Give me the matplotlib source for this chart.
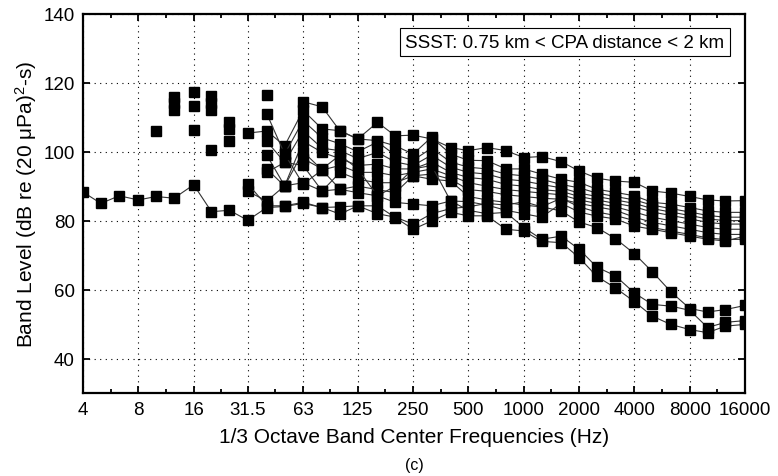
import numpy as np
import matplotlib
matplotlib.use("Agg")
import matplotlib.pyplot as plt
from matplotlib.ticker import FixedLocator, NullFormatter

plt.rcParams['font.family'] = ['Liberation Sans', 'DejaVu Sans']
plt.rcParams['mathtext.fontset'] = 'custom'
plt.rcParams['mathtext.rm'] = 'Liberation Sans'
plt.rcParams['mathtext.it'] = 'Liberation Sans:italic'

nan = np.nan

# 1/3 octave band centre frequencies (Hz)
bands = [4, 5, 6.3, 8, 10, 12.5, 16, 20, 25, 31.5, 40, 50, 63, 80, 100, 125,
         160, 200, 250, 315, 400, 500, 630, 800, 1000, 1250, 1600, 2000, 2500,
         3150, 4000, 5000, 6300, 8000, 10000, 12500, 16000]
bands_hi = bands[9:]  # 31.5 Hz and up

# full-range record (4 Hz - 16 kHz)
level_a = [88.3, 85, 87.2, 86, 87, 86.5, 90.4, 82.6, 83, 80.1, 83.8, 84.1, 85,
           83.8, 81.9, 84.3, 82, 81, 79, 82, 83.5, 84, 85, 84.5, 85.5, 84, 82.8,
           79.6, 78, 74.8, 70.4, 65.2, 59.4, 54.5, 53.5, 54.2, 55.4]

# records from 31.5 Hz up
level_t = [nan, nan, nan, 114.5, 113, 106, 103.7, 108.5, 104.6, 104.8, 103.7, 101.2,
           100.3, 101.2, 100.3, 98.3, 98.6, 97.1, 94.4, 92.3, 91.5, 91.1, 88.6,
           88, 87, 86, 85.7, 85.8]
level_b1 = [105.4, 106, 101.7, 112, 106.6, 106.1, 103.7, 103.2, 101.7, 99.3, 104.2,
            99.3, 97.5, 97.4, 95, 95, 93.5, 92, 91.1, 89.1, 88.2, 87.2, 85.3, 84.8,
            83.8, 82.8, 82.4, 82.4]
level_b2 = [nan, 111, 99.3, 109, 104, 102.3, 100, 102.8, 99, 97.5, 101, 97, 95.5,
            95, 93.5, 93, 92, 90.5, 89.5, 88, 87, 86, 84.5, 83.5, 82.5, 81.5, 81, 81]
level_b3 = [nan, 103, 96.9, 106, 101, 100.3, 98, 99.8, 97, 96, 99, 95.5, 94, 93.5,
            92, 91.5, 90.5, 89.5, 88, 87, 86, 85, 83.5, 82.5, 81.5, 80.5, 80, 80]
level_b4 = [nan, 99, 90.1, 103, 99.8, 98, 96, 96.4, 95, 95, 97, 94, 92.5, 92, 90.5,
            90, 89, 88.5, 87, 86, 85, 84, 82.5, 81.5, 80.5, 79.5, 79, 79]
level_b5 = [nan, 95, 90, 100, 94.7, 96, 94, 94, 93, 94, 95, 93, 91, 90, 89, 88.5,
            88, 87.5, 86, 85, 84, 82.5, 81, 80, 79, 78, 77.5, 77.5]
level_b6 = [nan, 94, 96.9, 96, 88.6, 94, 92, 91, 91, 93, 93.5, 92, 89, 88.5, 87.5,
            87, 86.5, 86.2, 85, 84, 83, 81, 79.5, 78.5, 77.5, 76.5, 76, 76]
level_b7 = [nan, nan, 99.3, 90.6, 94.7, 89.1, 90, 89, 88.1, 93, 92, 91.5, 87, 86,
            85.3, 84.5, 84, 86.5, 84, 82.5, 81.5, 80, 78, 77, 76, 75, 74.5, 74.6]
level_b8 = [nan, nan, nan, 98, 95, 99, 95, 87.2, 90, 95, 96, 85.7, 85.5, 84.5, 83,
            82, 81, 85, 82.5, 81.3, 80.5, 78.4, 77.5, 76.5, 75.5, 74.6, 74.1, 75.5]
level_n1 = [88.5, 85.7, 90.1, 91, 88.6, 89.1, 88.1, 87.2, 85.3, 84.8, 84.3, 85.7,
            83, 82, 82.4, 78, 74.6, 75.5, 71.7, 66.5, 64, 59, 55.7, 55.2, 54, 49,
            50.5, 51]
level_n2 = [90.7, 84.3, 84.3, 85.3, 83.8, 84, 84.3, 84.3, 80.9, 77.5, 79.9, 82.4,
            81.4, 81.4, 77.5, 77, 74, 73.6, 69.3, 63.8, 60.5, 56.5, 52.3, 49.9, 48.4,
            47.5, 49.4, 49.9]

# isolated low-frequency points (no neighbours, no lines)
scatter_freqs = [10, 12.5, 12.5, 12.5, 16, 16, 16, 20, 20, 20, 20, 25, 25, 25, 40]
scatter_levels = [106, 116, 114, 112, 117.4, 113.3, 106.4, 116.2, 114, 112.2,
                  100.5, 108.5, 106.5, 103, 116.5]

tick_freqs = [4, 8, 16, 31.5, 63, 125, 250, 500, 1000, 2000, 4000, 8000, 16000]
tick_labels = ['4', '8', '16', '31.5', '63', '125', '250', '500', '1000', '2000',
               '4000', '8000', '16000']

fig = plt.figure(figsize=(7.78, 4.77), dpi=100)
ax = fig.add_axes([0.1067, 0.174, 0.851, 0.795])

style = dict(color='#333333', lw=0.8, marker='s', ms=6.8, mfc='k', mec='k')
ax.plot(bands, level_a, **style)
for lv in [level_t, level_b1, level_b2, level_b3, level_b4, level_b5, level_b6,
           level_b7, level_b8, level_n1, level_n2]:
    ax.plot(bands_hi, lv, **style)
ax.plot(scatter_freqs, scatter_levels, ls='none', marker='s', ms=6.8, mfc='k', mec='k')

ax.set_xscale('log')
ax.set_xlim(4, 16000)
ax.set_ylim(30, 140)
ax.xaxis.set_major_locator(FixedLocator(tick_freqs))
ax.set_xticklabels(tick_labels)
tf = np.array(tick_freqs)
ax.xaxis.set_minor_locator(FixedLocator(np.sqrt(tf[:-1] * tf[1:])))
ax.xaxis.set_minor_formatter(NullFormatter())
ax.set_yticks([40, 60, 80, 100, 120, 140])

ax.tick_params(which='both', direction='in', top=True, right=True, labelsize=13.5,
               width=1.3, pad=6)
ax.tick_params(which='major', length=5)
ax.tick_params(which='minor', length=3)
for sp in ax.spines.values():
    sp.set_linewidth(1.6)

ax.grid(True, which='major', color='k', ls=(0, (1, 4)), lw=0.8)

ax.set_xlabel('1/3 Octave Band Center Frequencies (Hz)', fontsize=15, labelpad=6)
ax.set_ylabel('Band Level (dB re (20 \u03bcPa)$^2$-s)', fontsize=15, labelpad=3)

ax.text(0.969, 0.925, 'SSST: 0.75 km < CPA distance < 2 km', transform=ax.transAxes,
        ha='right', va='center', fontsize=13.5,
        bbox=dict(boxstyle='square,pad=0.3', fc='white', ec='k', lw=0.8))

fig.text(0.532, 0.025, '(c)', ha='center', va='center', fontsize=11.5)

fig.savefig('out.png', dpi=100)
